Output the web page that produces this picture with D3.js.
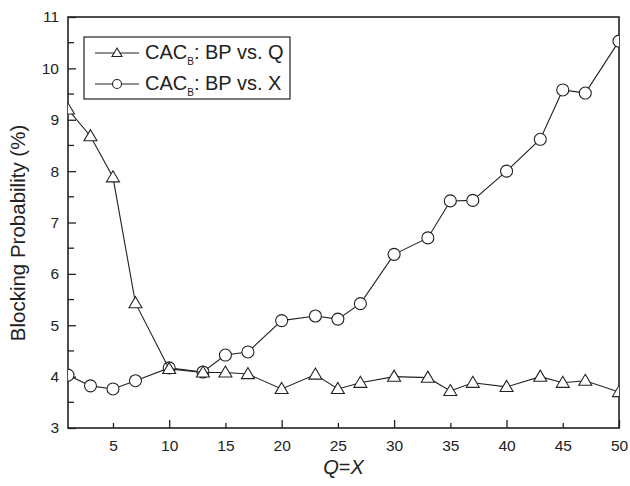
<!DOCTYPE html>
<html>
<head>
<meta charset="utf-8">
<script src="https://cdn.jsdelivr.net/npm/d3@7"></script>
<style>
  body { margin: 0; background: #fff; }
  text { font-family: "Liberation Sans", Arial, sans-serif; fill: #222; }
</style>
</head>
<body>
<div id="chart"></div>
<script>
  // data
  var qx = [1, 3, 5, 7, 10, 13, 15, 17, 20, 23, 25, 27, 30, 33, 35, 37, 40, 43, 45, 47, 50];
  var bpVsQ = [9.2, 8.68, 7.88, 5.43, 4.15, 4.08, 4.08, 4.05, 3.76, 4.04, 3.76, 3.88, 4.0, 3.98, 3.72, 3.88, 3.8, 4.0, 3.88, 3.92, 3.7];
  var bpVsX = [4.03, 3.82, 3.76, 3.92, 4.17, 4.09, 4.42, 4.48, 5.09, 5.18, 5.12, 5.42, 6.38, 6.7, 7.42, 7.43, 8.0, 8.62, 9.58, 9.52, 10.53];
  var xTicks = [5, 10, 15, 20, 25, 30, 35, 40, 45, 50];
  var yTicks = [3, 4, 5, 6, 7, 8, 9, 10, 11];
  var yMinor = [3.5, 4.5, 5.5, 6.5, 7.5, 8.5, 9.5, 10.5];

  var W = 630, H = 486;
  var margin = {top: 17, right: 11, bottom: 58, left: 68};
  var width = W - margin.left - margin.right,
      height = H - margin.top - margin.bottom;

  var svg = d3.select("#chart").append("svg")
    .attr("width", W)
    .attr("height", H);

  var g = svg.append("g")
    .attr("transform", "translate(" + margin.left + "," + margin.top + ")");

  var x = d3.scaleLinear().domain([1, 50]).range([0, width]);
  var y = d3.scaleLinear().domain([3, 11]).range([height, 0]);

  g.append("clipPath").attr("id", "clip")
    .append("rect").attr("width", width).attr("height", height);

  // ticks, drawn inward
  var xAxis = d3.axisBottom(x).tickValues(xTicks).tickSizeInner(0).tickSizeOuter(0).tickPadding(12);
  var gx = g.append("g").attr("transform", "translate(0," + height + ")").call(xAxis);
  gx.select(".domain").remove();
  gx.selectAll("text").style("font-size", "15.5px").attr("fill", "#222");
  gx.selectAll(".tick").append("line")
    .attr("y2", function(d) { return d % 10 === 0 ? -8 : -5; })
    .attr("stroke", "#222").attr("stroke-width", 1.3);

  var yAxis = d3.axisLeft(y).tickValues(yTicks).tickSizeInner(0).tickSizeOuter(0).tickPadding(9);
  var gy = g.append("g").call(yAxis);
  gy.select(".domain").remove();
  gy.selectAll("text").style("font-size", "15.5px").attr("fill", "#222");
  gy.selectAll(".tick").append("line")
    .attr("x2", 8).attr("stroke", "#222").attr("stroke-width", 1.3);
  g.selectAll(".ymin").data(yMinor).enter().append("line")
    .attr("class", "ymin")
    .attr("x1", 0).attr("x2", 6)
    .attr("y1", function(d) { return y(d); }).attr("y2", function(d) { return y(d); })
    .attr("stroke", "#222").attr("stroke-width", 1.3);

  // frame
  g.append("rect")
    .attr("width", width).attr("height", height)
    .attr("fill", "none").attr("stroke", "#222").attr("stroke-width", 1.6);

  var line = d3.line()
    .x(function(d) { return x(d[0]); })
    .y(function(d) { return y(d[1]); });

  var plot = g.append("g").attr("clip-path", "url(#clip)");

  function tri(s) { return "M0," + (-s) + "L" + s + "," + (s * 0.7) + "L" + (-s) + "," + (s * 0.7) + "Z"; }

  function drawSeries(vals, marker) {
    var pts = qx.map(function(v, i) { return [v, vals[i]]; });
    plot.append("path").datum(pts)
      .attr("d", line)
      .attr("fill", "none").attr("stroke", "#222").attr("stroke-width", 1.1);
    pts.forEach(function(p) {
      if (marker === "tri") {
        plot.append("path").attr("d", tri(6.5))
          .attr("transform", "translate(" + x(p[0]) + "," + y(p[1]) + ")")
          .attr("fill", "#fff").attr("stroke", "#222").attr("stroke-width", 1.1);
      } else {
        plot.append("circle").attr("cx", x(p[0])).attr("cy", y(p[1])).attr("r", 6)
          .attr("fill", "#fff").attr("stroke", "#222").attr("stroke-width", 1.1);
      }
    });
  }

  drawSeries(bpVsX, "circle");
  drawSeries(bpVsQ, "tri");

  // legend
  var lg = svg.append("g").attr("transform", "translate(84,37)");
  lg.append("rect").attr("width", 206).attr("height", 62)
    .attr("fill", "#fff").attr("stroke", "#222").attr("stroke-width", 1.2);
  var entries = [{m: "tri", t: "Q", yy: 16}, {m: "circle", t: "X", yy: 47}];
  entries.forEach(function(e) {
    lg.append("line").attr("x1", 11).attr("x2", 55).attr("y1", e.yy).attr("y2", e.yy)
      .attr("stroke", "#222").attr("stroke-width", 1.1);
    if (e.m === "tri") {
      lg.append("path").attr("d", tri(5)).attr("transform", "translate(33," + e.yy + ")")
        .attr("fill", "#fff").attr("stroke", "#222").attr("stroke-width", 1.1);
    } else {
      lg.append("circle").attr("cx", 33).attr("cy", e.yy).attr("r", 4.5)
        .attr("fill", "#fff").attr("stroke", "#222").attr("stroke-width", 1.1);
    }
    var t = lg.append("text").attr("x", 61).attr("y", e.yy + 6).style("font-size", "20px");
    t.append("tspan").text("CAC");
    t.append("tspan").text("B").style("font-size", "10px").attr("dy", 6);
    t.append("tspan").text(": BP vs. " + e.t).attr("dy", -6);
  });

  // axis titles
  svg.append("text")
    .attr("transform", "translate(25,233) rotate(-90)")
    .attr("text-anchor", "middle")
    .style("font-size", "20.5px")
    .text("Blocking Probability (%)");

  var xt = svg.append("text")
    .attr("x", margin.left + width / 2).attr("y", 474)
    .attr("text-anchor", "middle")
    .style("font-size", "20px");
  xt.append("tspan").text("Q").style("font-style", "italic");
  xt.append("tspan").text("=");
  xt.append("tspan").text("X").style("font-style", "italic");
</script>
</body>
</html>
